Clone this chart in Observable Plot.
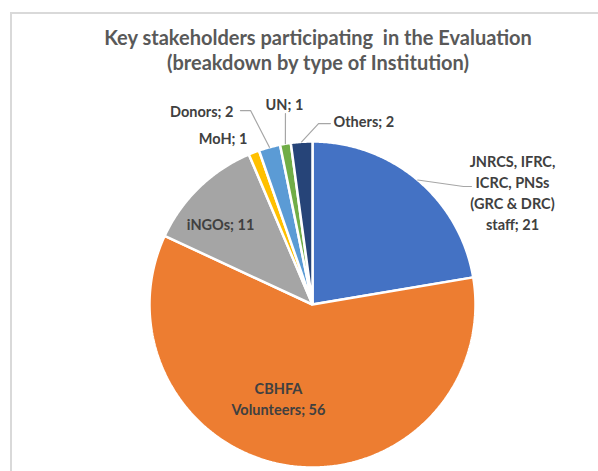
<!DOCTYPE html>
<html>
<head>
<meta charset="utf-8">
<script src="https://cdn.jsdelivr.net/npm/d3@7"></script>
<script src="https://cdn.jsdelivr.net/npm/@observablehq/plot@0.6"></script>
<style>
  html, body { margin: 0; padding: 0; background: #fff; }
  #wrap { position: relative; width: 598px; height: 471px; overflow: hidden; }
  #border { position: absolute; left: 10px; top: 12px; width: 600px; height: 470px;
            border-left: 2px solid #d9d9d9; border-top: 2px solid #d9d9d9; }
  #title { position: absolute; left: 20px; width: 596px; top: 25px; text-align: center;
           font-family: Lato, "Open Sans", sans-serif; font-weight: bold; font-size: 20px;
           line-height: 25px; color: #595959; }
  #chart { position: absolute; left: 0; top: 0; }
</style>
</head>
<body>
<div id="wrap">
  <div id="border"></div>
  <div id="chart"></div>
  <div id="title">Key stakeholders participating&nbsp; in the Evaluation<br>(breakdown by type of Institution)</div>
</div>
<script>
// ---- data ----
const categories = ["JNRCS, IFRC, ICRC, PNSs (GRC & DRC) staff", "CBHFA Volunteers", "iNGOs", "MoH", "Donors", "UN", "Others"];
const values = [21, 56, 11, 1, 2, 1, 2];
const labelTexts = ["JNRCS, IFRC,\nICRC, PNSs\n(GRC & DRC)\nstaff; 21", "CBHFA\nVolunteers; 56", "iNGOs; 11", "MoH; 1", "Donors; 2", "UN; 1", "Others; 2"];

// ---- styles / layout (unit-radius coordinates) ----
const colors = ["#4472C4", "#ED7D31", "#A5A5A5", "#FFC000", "#5B9BD5", "#70AD47", "#264478"];
const labelPos = [
  {x: 1.227, y: 0.690, anchor: "middle"},
  {x: -0.209, y: -0.575, anchor: "middle"},
  {x: -0.564, y: 0.497, anchor: "middle"},
  {x: -0.399, y: 1.025, anchor: "end"},
  {x: -0.485, y: 1.190, anchor: "end"},
  {x: -0.172, y: 1.233, anchor: "middle"},
  {x: 0.129, y: 1.129, anchor: "start"}
];
// leader elbow / end points (null = no leader)
const leaders = [
  [[0.926, 0.724], [0.975, 0.724]],
  null, null, null,
  [[-0.380, 1.190], [-0.442, 1.190]],
  [[-0.166, 1.171]],
  [[0.037, 1.110], [0.110, 1.110]]
];

const cx = 312, cy = 304, R = 163;

const arcs = d3.pie().sort(null).value(d => d)(values);

// slice polygons sampled along arcs
const slicePts = [];
arcs.forEach((a, i) => {
  const cat = categories[i];
  slicePts.push({cat, x: 0, y: 0});
  const n = Math.max(2, Math.ceil((a.endAngle - a.startAngle) / (Math.PI / 360)));
  for (let k = 0; k <= n; k++) {
    const t = a.startAngle + (a.endAngle - a.startAngle) * k / n;
    slicePts.push({cat, x: Math.sin(t), y: Math.cos(t)});
  }
});

// leader lines
const leaderPts = [];
arcs.forEach((a, i) => {
  if (!leaders[i]) return;
  const m = (a.startAngle + a.endAngle) / 2;
  leaderPts.push({cat: categories[i], x: Math.sin(m), y: Math.cos(m)});
  leaders[i].forEach(([x, y]) => leaderPts.push({cat: categories[i], x, y}));
});

const labels = categories.map((c, i) => ({cat: c, text: labelTexts[i], ...labelPos[i]}));

const textOpts = {x: "x", y: "y", text: "text", fill: "#404040", fontWeight: "bold",
  fontSize: 14.5, lineHeight: 1.45, fontFamily: "Lato, 'Open Sans', sans-serif", lineAnchor: "middle"};

const chart = Plot.plot({
  width: 598, height: 471,
  margin: 0,
  x: {domain: [-1, 1], range: [cx - R, cx + R], axis: null},
  y: {domain: [-1, 1], range: [cy + R, cy - R], axis: null},
  color: {domain: categories, range: colors},
  style: {background: "transparent"},
  marks: [
    Plot.line(slicePts, {x: "x", y: "y", z: "cat", fill: "cat", stroke: "white", strokeWidth: 2.5,
      strokeLinejoin: "miter", curve: "linear-closed"}),
    Plot.line(leaderPts, {x: "x", y: "y", z: "cat", stroke: "#a6a6a6", strokeWidth: 1.2}),
    Plot.text(labels.filter(d => d.anchor === "middle"), {...textOpts, textAnchor: "middle"}),
    Plot.text(labels.filter(d => d.anchor === "start"), {...textOpts, textAnchor: "start"}),
    Plot.text(labels.filter(d => d.anchor === "end"), {...textOpts, textAnchor: "end"})
  ]
});
document.getElementById("chart").appendChild(chart);
</script>
</body>
</html>
